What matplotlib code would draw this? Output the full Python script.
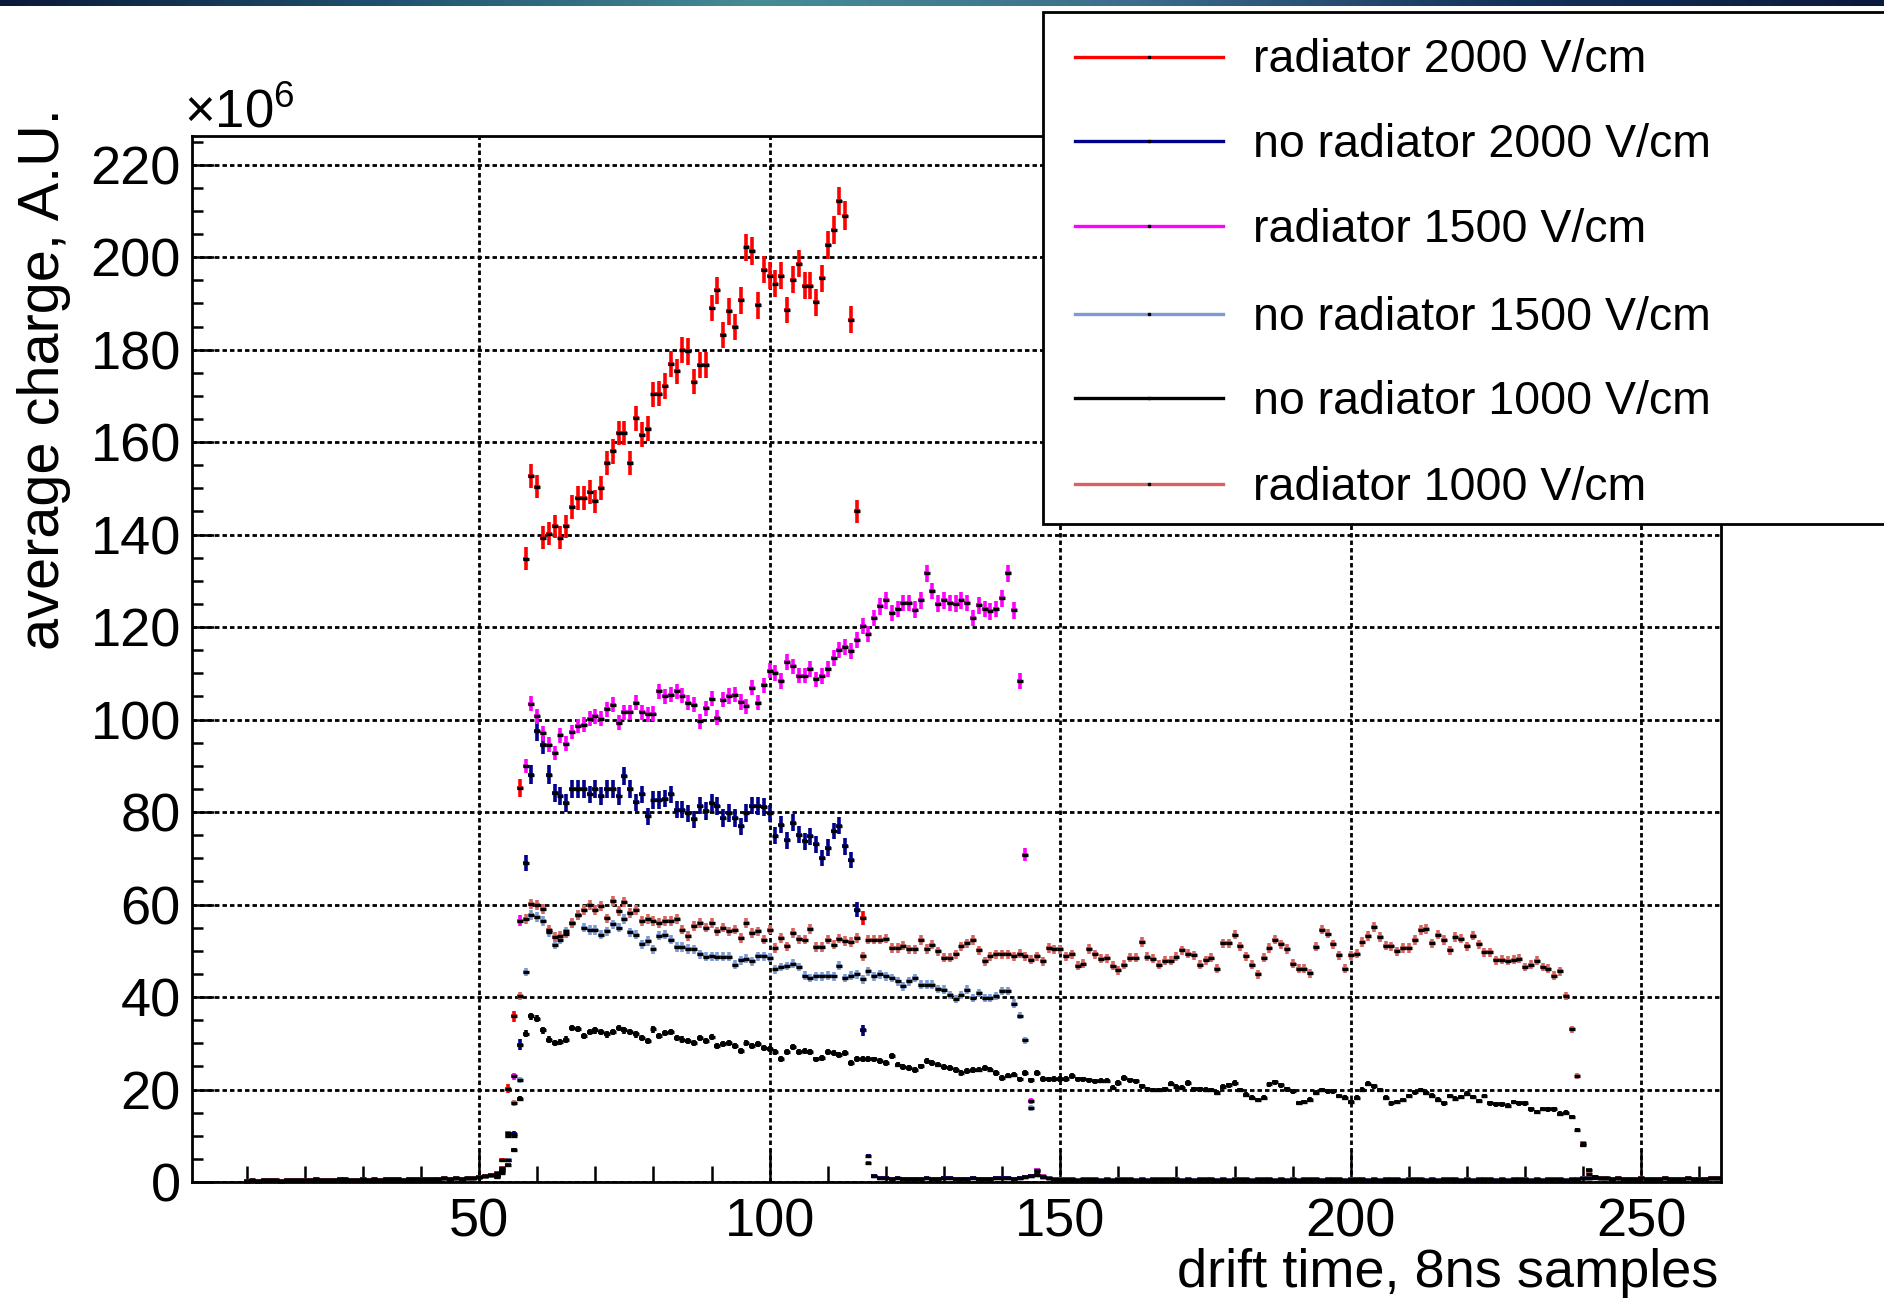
import numpy as np
import matplotlib
matplotlib.use('Agg')
import matplotlib.pyplot as plt
from matplotlib.patches import Rectangle
from matplotlib.lines import Line2D
from matplotlib.ticker import MultipleLocator

plt.rcParams['font.family'] = ['Liberation Sans', 'DejaVu Sans']
plt.rcParams['mathtext.fontset'] = 'custom'
plt.rcParams['mathtext.rm'] = 'Liberation Sans'

# average charge per 8ns sample, in units of 1e6 A.U.
pedestal_start = 10   # bins 10..52, before the signal
pedestal = [0.3, 0.4, 0.3, 0.4, 0.5, 0.4, 0.3, 0.4, 0.4, 0.5,
            0.4, 0.5, 0.6, 0.5, 0.4, 0.5, 0.6, 0.6, 0.5, 0.5,
            0.6, 0.5, 0.6, 0.5, 0.6, 0.7, 0.6, 0.5, 0.6, 0.7,
            0.6, 0.7, 0.6, 0.7, 0.8, 0.7, 0.8, 0.7, 0.8, 0.9,
            1.0, 1.2, 1.5]

tail_start = 118      # bins 118..263, after the signal
tail = [1.2, 0.9, 0.8, 0.7, 0.8, 0.6, 0.7, 0.6, 0.7, 0.8,
        0.7, 0.6, 0.8, 0.9, 0.7, 0.6, 0.7, 0.8, 0.7, 0.6,
        0.7, 0.8, 0.9, 0.8, 0.7, 0.9, 1.1, 1.3, 1.5, 1.0,
        0.8, 0.7, 0.6, 0.7, 0.6, 0.5, 0.6, 0.7, 0.6, 0.5,
        0.6, 0.5, 0.6, 0.7, 0.6, 0.5, 0.6, 0.5, 0.6, 0.7,
        0.6, 0.7, 0.6, 0.5, 0.6, 0.5, 0.6, 0.7, 0.6, 0.5,
        0.6, 0.5, 0.6, 0.7, 0.6, 0.5, 0.6, 0.7, 0.6, 0.5,
        0.6, 0.5, 0.6, 0.5, 0.6, 0.7, 0.6, 0.5, 0.6, 0.7,
        0.6, 0.5, 0.6, 0.7, 0.6, 0.5, 0.6, 0.5, 0.6, 0.7,
        0.6, 0.5, 0.6, 0.7, 0.6, 0.5, 0.6, 0.5, 0.6, 0.7,
        0.6, 0.5, 0.6, 0.5, 0.6, 0.7, 0.6, 0.5, 0.6, 0.5,
        0.6, 0.7, 0.6, 0.5, 0.6, 0.5, 0.6, 0.7, 0.6, 0.5,
        0.6, 0.7, 0.8, 0.9, 1.0, 0.9, 0.8, 0.7, 0.8, 0.7,
        0.6, 0.7, 0.8, 0.7, 0.6, 0.7, 0.8, 0.7, 0.6, 0.7,
        0.8, 0.7, 0.6, 0.7, 0.8, 0.9]

signal_start = 53     # every signal list starts at bin 53

rad_2000 = [2.0, 4.8, 20.2, 35.8, 85.3, 134.8, 152.6, 150.4, 139.3, 140.2,
            141.8, 139.3, 141.8, 146.0, 147.9, 147.9, 149.2, 147.2, 150.1, 155.5,
            158.0, 162.0, 162.0, 155.5, 165.2, 161.6, 162.9, 170.3, 170.5, 172.1,
            176.9, 175.3, 180.0, 179.6, 173.1, 176.6, 176.6, 189.0, 192.8, 183.2,
            188.3, 184.9, 190.7, 202.1, 201.3, 189.6, 197.3, 196.0, 194.3, 196.0,
            188.6, 195.1, 198.6, 193.8, 193.8, 190.2, 195.4, 202.6, 205.9, 212.2,
            209.0, 186.5, 145.0, 57.1, 4.2]

norad_2000 = [1.5, 3.0, 4.8, 10.3, 29.7, 68.9, 88.1, 97.5, 94.5, 88.1,
              84.1, 83.4, 82.0, 85.0, 85.0, 84.9, 83.8, 84.9, 83.4, 84.9,
              84.9, 83.4, 87.8, 84.9, 82.1, 83.8, 79.1, 82.6, 82.6, 82.9,
              83.8, 80.5, 80.5, 79.7, 78.4, 81.4, 80.2, 82.0, 81.3, 78.7,
              79.8, 78.7, 76.9, 79.8, 81.4, 81.3, 81.1, 79.7, 74.9, 77.3,
              73.9, 77.7, 75.1, 73.7, 74.8, 73.0, 70.1, 72.3, 75.9, 77.0,
              72.6, 69.7, 58.9, 32.8, 5.6]

rad_1500 = [1.2, 2.3, 10.6, 22.9, 56.5, 89.9, 103.4, 100.7, 97.0, 94.6,
            92.7, 96.6, 94.8, 97.3, 98.6, 98.9, 100.2, 100.7, 100.2, 102.2,
            103.2, 99.3, 101.6, 101.6, 103.6, 101.6, 101.1, 101.3, 106.1, 105.0,
            105.4, 106.1, 105.2, 103.6, 103.2, 99.6, 102.5, 104.5, 100.4, 104.3,
            105.1, 105.4, 103.8, 102.9, 106.9, 103.6, 107.4, 110.6, 110.1, 108.3,
            112.5, 111.5, 109.5, 109.5, 111.0, 108.7, 109.4, 111.0, 113.3, 115.0,
            115.7, 114.8, 117.3, 120.3, 118.6, 122.0, 124.5, 125.8, 123.1, 123.9,
            125.2, 125.2, 123.8, 125.8, 131.6, 127.8, 125.1, 125.8, 125.2, 125.1,
            125.8, 125.2, 122.0, 124.7, 123.9, 123.4, 123.9, 126.2, 131.6, 123.6,
            108.3, 70.8, 17.6, 2.5, 1.2]

norad_1500 = [1.0, 2.0, 4.8, 10.0, 22.0, 45.4, 57.8, 57.3, 56.5, 54.0,
              51.3, 52.4, 54.2, 56.0, 57.8, 55.0, 54.5, 54.5, 53.5, 54.2,
              55.7, 55.0, 56.8, 54.0, 53.5, 51.4, 52.1, 50.3, 53.3, 53.5,
              52.4, 50.8, 50.8, 50.4, 50.3, 49.2, 48.7, 48.8, 48.7, 48.7,
              48.7, 47.0, 48.0, 48.3, 47.7, 48.8, 48.8, 48.5, 46.0, 46.5,
              46.7, 47.2, 46.5, 44.6, 44.1, 44.5, 44.5, 44.6, 44.5, 46.8,
              44.1, 44.6, 44.9, 43.8, 45.6, 44.5, 44.9, 44.5, 44.1, 43.4,
              42.3, 43.4, 44.1, 42.7, 42.7, 42.7, 41.8, 41.6, 40.5, 39.6,
              40.5, 41.6, 39.8, 40.9, 39.8, 39.8, 40.2, 41.3, 41.3, 38.6,
              36.0, 30.6, 16.0, 2.3, 1.0]

norad_1000 = [1.2, 2.5, 3.6, 7.0, 18.0, 32.1, 35.8, 35.3, 32.8, 30.8,
              30.0, 30.2, 30.8, 33.3, 33.1, 31.5, 32.5, 32.8, 32.5, 31.9,
              32.4, 33.3, 32.8, 32.4, 31.9, 31.2, 30.5, 33.0, 31.5, 32.2,
              32.4, 31.2, 30.8, 30.5, 30.1, 31.2, 30.5, 31.4, 29.4, 29.9,
              30.1, 29.4, 28.3, 30.1, 29.4, 29.9, 29.0, 28.7, 28.1, 26.6,
              28.1, 29.1, 28.1, 28.3, 28.1, 26.5, 26.8, 28.1, 27.9, 27.4,
              27.9, 25.8, 26.6, 26.6, 26.6, 26.5, 26.1, 25.8, 27.2, 25.4,
              24.9, 24.7, 24.2, 25.0, 26.1, 25.8, 25.4, 24.9, 24.7, 24.2,
              23.6, 24.0, 24.2, 24.3, 24.7, 24.3, 23.6, 22.5, 23.0, 23.2,
              22.2, 23.6, 22.0, 23.6, 22.3, 22.2, 22.3, 22.3, 22.3, 22.9,
              22.2, 22.2, 22.0, 21.8, 21.9, 21.9, 20.4, 21.4, 22.5, 22.0,
              21.8, 20.7, 20.1, 19.9, 19.9, 20.1, 21.3, 20.6, 20.4, 21.4,
              20.1, 20.1, 20.0, 19.9, 19.3, 20.6, 20.9, 21.4, 19.9, 18.9,
              18.2, 17.7, 18.2, 21.1, 21.6, 20.9, 20.1, 19.6, 17.1, 17.3,
              17.8, 19.3, 19.9, 19.6, 19.6, 18.6, 18.2, 17.3, 18.2, 20.0,
              21.3, 20.7, 19.9, 18.2, 17.0, 17.3, 17.7, 18.6, 19.4, 19.9,
              19.3, 18.7, 17.8, 17.0, 18.6, 18.0, 18.4, 19.1, 18.4, 17.5,
              18.6, 17.0, 16.8, 16.8, 16.5, 17.3, 17.0, 17.0, 15.7, 15.1,
              15.8, 15.7, 15.7, 14.8, 15.0, 14.1, 11.2, 8.0, 2.7, 1.0]

rad_1000 = [1.5, 3.0, 10.0, 17.1, 40.2, 56.9, 60.1, 59.8, 59.1, 54.6,
            53.0, 53.3, 53.7, 56.0, 57.8, 58.9, 60.0, 58.9, 59.6, 57.0,
            60.7, 58.6, 60.5, 58.2, 58.9, 56.4, 56.8, 56.4, 56.0, 56.4,
            56.4, 56.8, 54.6, 53.2, 55.3, 56.0, 55.0, 56.0, 54.2, 55.0,
            54.2, 54.6, 52.8, 56.0, 53.9, 54.2, 52.4, 54.6, 50.6, 52.8,
            51.0, 53.9, 52.5, 52.4, 54.7, 50.8, 50.8, 52.4, 51.3, 52.6,
            52.1, 51.9, 52.8, 48.8, 52.4, 52.4, 52.4, 52.6, 50.6, 50.6,
            51.1, 50.3, 50.3, 52.3, 50.4, 51.3, 49.9, 48.5, 48.5, 49.2,
            51.0, 51.6, 52.3, 50.1, 47.7, 48.8, 49.2, 49.2, 49.2, 48.8,
            49.4, 48.8, 48.1, 48.8, 47.7, 50.6, 50.3, 50.3, 48.8, 49.2,
            46.8, 47.2, 50.4, 49.2, 48.3, 48.4, 46.8, 45.8, 47.0, 48.5,
            48.5, 51.9, 48.7, 48.3, 47.0, 47.8, 47.8, 48.7, 50.1, 49.4,
            49.0, 47.0, 48.0, 48.5, 46.1, 51.6, 51.6, 53.5, 51.0, 48.8,
            47.0, 44.9, 48.5, 50.6, 52.4, 51.4, 50.4, 47.2, 46.1, 46.1,
            45.1, 50.9, 54.6, 53.7, 51.4, 49.0, 46.1, 49.0, 49.4, 51.9,
            53.2, 55.2, 53.0, 51.1, 51.0, 49.9, 50.6, 50.6, 52.3, 54.5,
            54.7, 51.6, 53.5, 52.3, 50.1, 53.0, 52.6, 51.0, 53.3, 51.4,
            49.7, 49.7, 48.0, 48.1, 47.8, 48.1, 48.3, 46.5, 47.0, 47.8,
            46.5, 46.1, 44.6, 45.6, 40.2, 33.0, 23.0, 8.5, 1.8, 0.8]

labels = ['radiator 2000 V/cm', 'no radiator 2000 V/cm', 'radiator 1500 V/cm',
          'no radiator 1500 V/cm', 'no radiator 1000 V/cm', 'radiator 1000 V/cm']
series = [rad_2000, norad_2000, rad_1500, norad_1500, norad_1000, rad_1000]
colors = ['#ff0000', '#00008b', '#ff00ff', '#7b9bd6', '#000000', '#d9645f']
err_scale = [0.21, 0.21, 0.16, 0.14, 0.12, 0.14]


def full_series(vals):
    end = signal_start + len(vals)
    y = pedestal + vals + tail[end - tail_start:]
    x = np.arange(pedestal_start, pedestal_start + len(y))
    return x, np.array(y)


W, H = 1884, 1302
fig = plt.figure(figsize=(W / 100, H / 100), dpi=100)
ax = fig.add_axes([192 / W, 1 - 1182 / H, (1721 - 192) / W, (1182 - 136) / H])

for vals, col, k in zip(series, colors, err_scale):
    x, y = full_series(vals)
    ax.errorbar(x, y, yerr=k * np.sqrt(y), xerr=0.5, fmt='none', ecolor=col,
                elinewidth=2.6, capsize=0, zorder=3, clip_on=False)
    ax.plot(x, y, ls='none', marker='_', ms=4.2, mew=2.4, color='black',
            zorder=4, clip_on=False)

ax.set_xlim(0.6, 263.7)
ax.set_ylim(0, 226.2)
ax.xaxis.set_major_locator(MultipleLocator(50))
ax.xaxis.set_minor_locator(MultipleLocator(10))
ax.yaxis.set_major_locator(MultipleLocator(20))
ax.yaxis.set_minor_locator(MultipleLocator(5))
ax.grid(True, which='major', color='black', linestyle=(0, (1.6, 1.1)), linewidth=2.0)
ax.set_axisbelow(True)
ax.tick_params(which='both', direction='in', top=False, right=False,
               labelsize=39, width=1.8, color='black')
ax.tick_params(axis='x', which='major', length=23, pad=11)
ax.tick_params(axis='x', which='minor', length=11.5)
ax.tick_params(axis='y', which='major', length=16, pad=8)
ax.tick_params(axis='y', which='minor', length=8)
for s in ax.spines.values():
    s.set_linewidth(2.0)

fig.text(44 / W, 1 - 108 / H, 'average charge, A.U.', rotation=90,
         ha='center', va='top', fontsize=41.5)
fig.text(1718 / W, 1 - 1298 / H, 'drift time, 8ns samples',
         ha='right', va='bottom', fontsize=39)
fig.text(184 / W, 1 - 128 / H, r'$\times10^{6}$', ha='left', va='baseline',
         fontsize=38)

# legend box, running off the right edge like the original
fig.add_artist(Rectangle((1043 / W, 1 - 524 / H), (1900 - 1043) / W, (524 - 12) / H,
                         transform=fig.transFigure, facecolor='white',
                         edgecolor='black', linewidth=2.0, zorder=5))
entry_y = [56.5, 140.6, 225.9, 313.6, 397.7, 484.2]
for lab, col, yy in zip(labels, colors, entry_y):
    fy = 1 - yy / H
    fig.add_artist(Line2D([1075 / W, 1223 / W], [fy, fy], transform=fig.transFigure,
                          color=col, linewidth=2.4, zorder=6))
    fig.add_artist(Line2D([1149 / W], [fy], transform=fig.transFigure, marker='s',
                          ms=1.8, color='black', zorder=7))
    fig.text(1253 / W, fy - 4 / H, lab, ha='left', va='center', fontsize=33.5, zorder=7)

# slide background strip at the top edge
bar = fig.add_axes([0, 1 - 6 / H, 1, 6 / H])
stops = np.array([[10, 25, 55], [30, 80, 110], [70, 140, 150], [60, 110, 140],
                  [20, 50, 90], [10, 25, 60]]) / 255.0
pos = np.linspace(0, 1, len(stops))
t = np.linspace(0, 1, 400)
grad = np.stack([np.interp(t, pos, stops[:, c]) for c in range(3)], axis=-1)
bar.imshow(grad[np.newaxis, :, :], aspect='auto')
bar.axis('off')

fig.savefig('out.png', dpi=100)
